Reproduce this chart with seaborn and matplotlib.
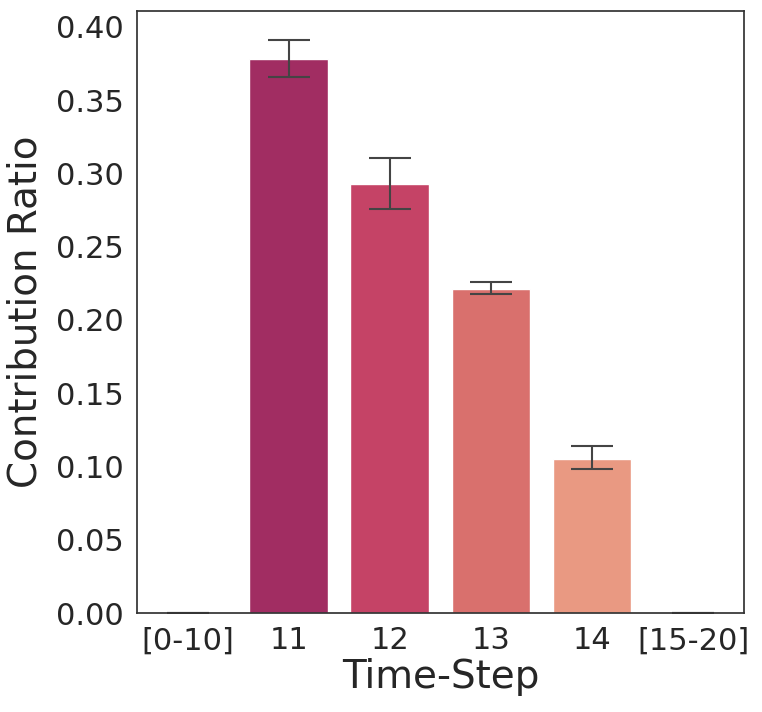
import matplotlib
matplotlib.use("Agg")
from matplotlib import pyplot as plt
import seaborn as sns
import pandas as pd
import numpy as np

# values
time_steps = ['[0-10]', '11', '12', '13', '14', '[15-20]']
ratio = [0.0, 0.378, 0.293, 0.221, 0.105, 0.0]
err_low = [0.0, 0.366, 0.276, 0.2175, 0.098, 0.0]
err_high = [0.0, 0.391, 0.3105, 0.226, 0.114, 0.0]

bar_colors = ['#7a2457', '#a12d62', '#c54366', '#d9706d', '#e99982', '#efb796']

sns.set_theme(style='white')
plt.rcParams['font.family'] = ['DejaVu Sans']

data = pd.DataFrame({'Time-Step': time_steps, 'Contribution Ratio': ratio})

fig = plt.figure(figsize=(7.62, 7.12), dpi=100)
ax = fig.add_axes([0.180, 0.139, 0.796, 0.846])
sns.barplot(x='Time-Step', y='Contribution Ratio', data=data, hue='Time-Step',
            palette=bar_colors, saturation=1, errorbar=None, width=0.78,
            legend=False, ax=ax)

ratio_arr = np.array(ratio)
yerr = [ratio_arr - np.array(err_low), np.array(err_high) - ratio_arr]
ax.errorbar(np.arange(len(time_steps)), ratio_arr, yerr=yerr, fmt='none',
            ecolor='#444444', elinewidth=1.5, capsize=15, capthick=1.5)

ax.set_ylim(0, 0.411)
ax.set_xlim(-0.5, 5.5)
ax.set_xlabel('Time-Step', fontsize=28, labelpad=2)
ax.set_ylabel('Contribution Ratio', fontsize=28, labelpad=8)
ax.tick_params(axis='both', labelsize=22)
for s in ax.spines.values():
    s.set_color('#333333')
    s.set_linewidth(1.25)

plt.savefig('out.png', dpi=100)
